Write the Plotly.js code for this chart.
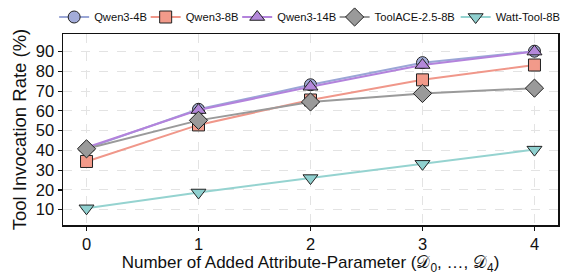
<!DOCTYPE html>
<html><head><meta charset="utf-8">
<script src="https://cdn.plot.ly/plotly-3.0.1.min.js"></script>
<style>html,body{margin:0;padding:0;background:#fff}#c{width:569px;height:275px}</style>
</head><body><div id="c"></div>
<script>
const xs = [0, 1, 2, 3, 4];
const names = ["Qwen3-4B", "Qwen3-8B", "Qwen3-14B", "ToolACE-2.5-8B", "Watt-Tool-8B"];
const qwen4b = [41, 60.8, 73.2, 84.4, 90.2];
const qwen8b = [34.4, 52.9, 65.5, 75.7, 83.2];
const qwen14b = [41.5, 60.4, 72.2, 83.2, 90];
const toolace = [40.8, 55.2, 64.5, 68.8, 71.5];
const watt = [10.7, 18.7, 26, 33.2, 40.4];
const yTicks = [10, 20, 30, 40, 50, 60, 70, 80, 90];

const series = [qwen4b, qwen8b, qwen14b, toolace, watt];
const lineColors = ["#9aa6d6", "#f0978a", "#b383dc", "#9a9a9a", "#95d3d0"];
const markerColors = ["#a3acd9", "#f29a8a", "#b488da", "#9a9a9a", "#8fd0cf"];
const symbols = ["circle", "square", "triangle-up", "diamond", "triangle-down"];
const sizes = [12, 12, 13, 14, 13];
const legendIds = ["legend", "legend2", "legend3", "legend4", "legend5"];
// approximate left pixel of each legend box
const legendPx = [54, 147, 240, 339, 462];

const L = 63, R = 3, T = 34, B = 50, W = 569, H = 275;
const pw = W - L - R, ph = H - T - B;

const traces = series.map((ys, i) => ({
  x: xs, y: ys, name: names[i], type: "scatter", mode: "lines+markers",
  legend: legendIds[i],
  line: {color: lineColors[i], width: 2},
  marker: {symbol: symbols[i], size: sizes[i], color: markerColors[i], line: {color: "#222", width: 1}}
}));

const layout = {
  width: W, height: H,
  margin: {l: L, r: R, t: T, b: B},
  paper_bgcolor: "#fff", plot_bgcolor: "#fff",
  font: {family: "Liberation Sans, Arial, sans-serif", color: "#111"},
  showlegend: true,
  xaxis: {range: [-0.21, 4.21], tickvals: xs, ticktext: xs.map(String),
    ticks: "outside", ticklen: 4, tickwidth: 1.2, tickcolor: "#111",
    tickfont: {size: 16.5}, showline: true, linecolor: "#111", linewidth: 1.5, mirror: true,
    showgrid: true, gridcolor: "#e3e3e3", griddash: "dash", gridwidth: 1, zeroline: false,
    title: {text: "Number of Added Attribute-Parameter (𝒟<sub>0</sub>, …, 𝒟<sub>4</sub>)", font: {size: 17}, standoff: 7}},
  yaxis: {range: [2.25, 98.9], tickvals: yTicks, ticktext: yTicks.map(String),
    ticks: "outside", ticklen: 4, tickwidth: 1.2, tickcolor: "#111",
    tickfont: {size: 16.5}, showline: true, linecolor: "#111", linewidth: 1.5, mirror: true,
    showgrid: true, gridcolor: "#e3e3e3", griddash: "dash", gridwidth: 1, zeroline: false,
    title: {text: "Tool Invocation Rate (%)", font: {size: 18.5}, standoff: 4}}
};
legendIds.forEach((id, i) => {
  layout[id] = {orientation: "h", x: (legendPx[i] - L) / pw, xanchor: "left",
    y: 1 + (T - 17) / ph, yanchor: "middle", font: {size: 11.2},
    bgcolor: "rgba(0,0,0,0)", borderwidth: 0};
});
Plotly.newPlot("c", traces, layout, {displayModeBar: false, staticPlot: true});
</script></body></html>
